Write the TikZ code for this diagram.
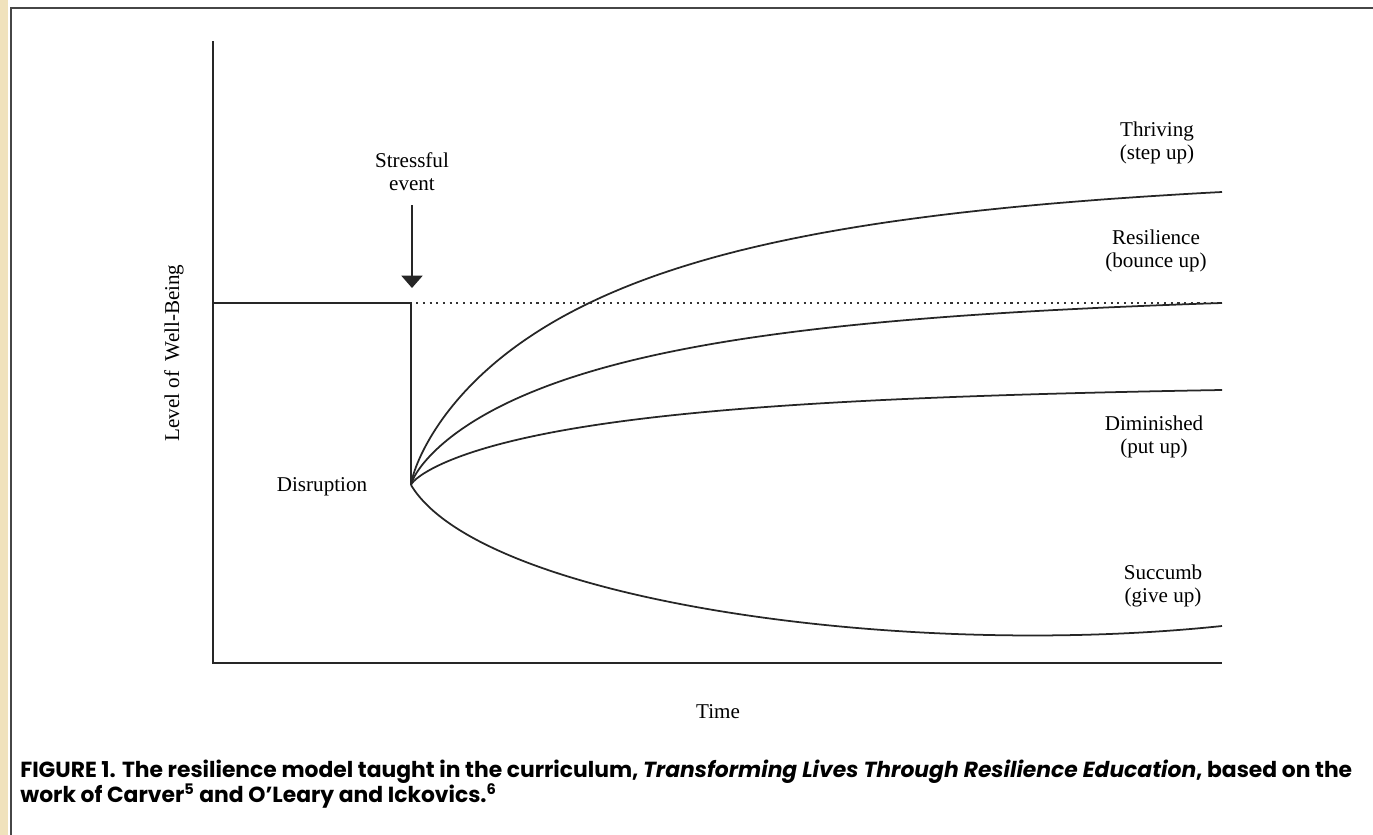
\documentclass[tikz,border=0pt]{standalone}
\usepackage{fontspec}
\setmainfont{Liberation Serif}
\newfontfamily\capfont{Poppins}
\usepackage{graphicx}
\usetikzlibrary{arrows.meta}
\definecolor{paper}{RGB}{240,226,188}
\definecolor{framegray}{RGB}{70,70,70}

\begin{document}
\begin{tikzpicture}[x=0.02cm, y=-0.02cm,
  declare function={g(\t)=(1-exp(-2.7*\t*sqrt(\t)))/(1-exp(-2.7));}]
\tikzstyle{Label}=[font=\fontsize{12}{13}\selectfont, align=center, inner sep=0pt]
\tikzstyle{Axis}=[line width=1.1pt, draw=black!85]
\tikzstyle{Curve}=[line width=1pt, draw=black!85]
\tikzstyle{Arrow}=[line width=0.9pt, draw=black!85, -{Triangle[width=12pt, length=7pt]}]
\useasboundingbox (0,0) rectangle (1373,835);
\fill[paper] (0,0) rectangle (8,835);
\draw[framegray, line width=1.6pt] (11,835) -- (11,8) -- (1373,8);
\coordinate (top) at (213,41);
\coordinate (origin) at (213,663);
\coordinate (xend) at (1222,663);
\coordinate (base) at (213,303);
\coordinate (event) at (411,303);
\coordinate (disr) at (411,485);
\coordinate (level) at (1222,303);
\coordinate (astart) at (412,205);
\coordinate (atip) at (412,288);
\coordinate (thr) at (1222,192);
\coordinate (res) at (1222,303);
\coordinate (dim) at (1222,390);
\coordinate (suc) at (1222,626);
\node[Label] (stress) at (412,172) {Stressful\\event};
\node[Label, rotate=90] (ylab) at (174,353) {Level of\hspace{0.45em}Well-Being};
\node[Label] (disrlab) at (322,487) {Disruption};
\node[Label] (thrlab) at (1157,143) {Thriving\\(step up)};
\node[Label] (reslab) at (1156,251) {Resilience\\(bounce up)};
\node[Label] (dimlab) at (1154,437) {Diminished\\(put up)};
\node[Label] (suclab) at (1163,586) {Succumb\\(give up)};
\node[Label] (time) at (718,712) {Time};
\draw[Axis] (top) -- (origin) -- (xend);
\draw[Axis] (base) -- (event) -- (disr);
\draw[line width=1.1pt, black!80, dash pattern=on 1.2pt off 2.6pt] ([xshift=3pt]event) -- (level);
\draw[Arrow] (astart) -- (atip);
\draw[Curve] (disr) -- plot[domain=0:1, samples=120, smooth] ({411+811*\x*\x}, {485-293*g(\x)}) -- (thr);
\draw[Curve] (disr) -- plot[domain=0:1, samples=120, smooth] ({411+811*\x*\x}, {485-182*g(\x)}) -- (res);
\draw[Curve] (disr) -- plot[domain=0:1, samples=120, smooth] ({411+811*\x*\x}, {485-95*g(\x)}) -- (dim);
\draw[Curve] (disr) .. controls (480,600) and (900,660) .. (suc);
\node[anchor=base west, inner sep=0pt] (caption) at (20,777) {\resizebox{758pt}{!}{\capfont\bfseries\fontsize{12}{12.5}\selectfont
  \begin{tabular}[t]{@{}l@{}}
  FIGURE 1. The resilience model taught in the curriculum, \textit{Transforming Lives Through Resilience Education}, based on the\\
  work of Carver\textsuperscript{5} and O’Leary and Ickovics.\textsuperscript{6}
  \end{tabular}}};
\end{tikzpicture}
\end{document}
